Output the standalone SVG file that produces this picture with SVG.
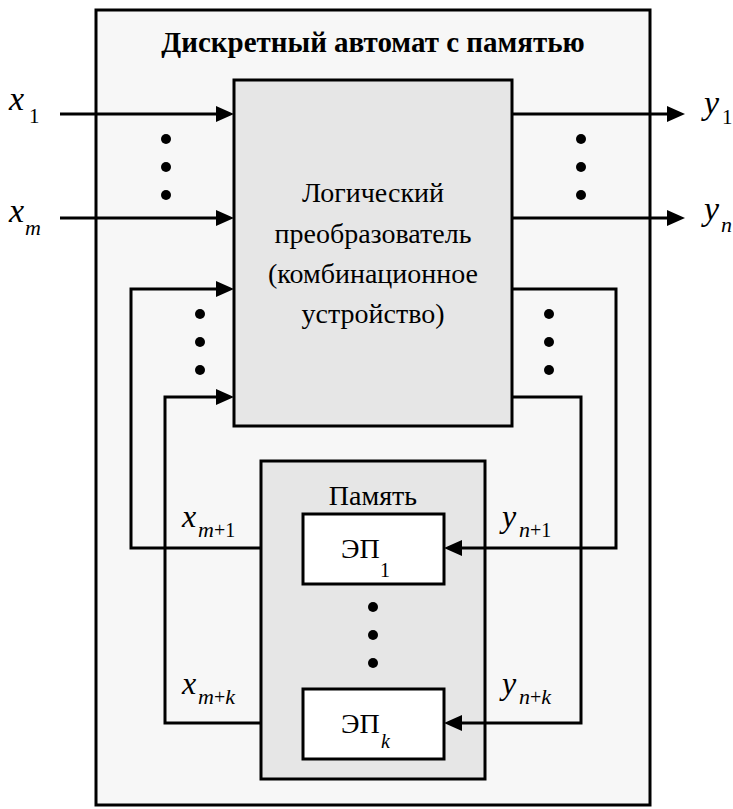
<svg xmlns="http://www.w3.org/2000/svg" width="733" height="809" viewBox="0 0 733 809">
<defs>
<style>
.ln{fill:none;stroke:#000;stroke-width:3}
.box{stroke:#000;stroke-width:3}
.ah{fill:#000}
</style>
</defs>
<rect width="733" height="809" fill="#fff"/>
<g id="automat">
<rect class="box" x="96" y="10" width="554" height="795" fill="#f7f7f7"/>
<text x="373" y="52" font-family="Liberation Serif" font-size="29" font-weight="bold" text-anchor="middle">Дискретный автомат с памятью</text>
</g>
<g id="logic">
<rect class="box" x="234" y="80" width="278" height="346" fill="#e6e6e6"/>
<text x="373" y="202" font-family="Liberation Serif" font-size="28" text-anchor="middle">Логический</text>
<text x="373" y="243" font-family="Liberation Serif" font-size="28" text-anchor="middle">преобразователь</text>
<text x="373" y="283" font-family="Liberation Serif" font-size="28" text-anchor="middle">(комбинационное</text>
<text x="373" y="323" font-family="Liberation Serif" font-size="28" text-anchor="middle">устройство)</text>
</g>
<g id="memory">
<rect class="box" x="261" y="461" width="224" height="318" fill="#e6e6e6"/>
<text x="373" y="505" font-family="Liberation Serif" font-size="28" text-anchor="middle">Память</text>
<circle cx="373" cy="607" r="5"/>
<circle cx="373" cy="635" r="5"/>
<circle cx="373" cy="663" r="5"/>
</g>
<g id="ep1">
<rect class="box" x="303" y="514" width="141" height="70" fill="#fff"/>
<text x="341" y="558" font-family="Liberation Serif" font-size="28">ЭП</text>
<text x="380" y="577" font-family="Liberation Serif" font-size="20">1</text>
</g>
<g id="epk">
<rect class="box" x="303" y="689" width="141" height="70" fill="#fff"/>
<text x="341" y="733" font-family="Liberation Serif" font-size="28">ЭП</text>
<text x="381" y="748" font-family="Liberation Serif" font-size="20" font-style="italic">k</text>
</g>
<g id="connectors">
<line class="ln" x1="60" y1="114" x2="220" y2="114"/>
<line class="ln" x1="60" y1="218" x2="220" y2="218"/>
<line class="ln" x1="512" y1="114" x2="671" y2="114"/>
<line class="ln" x1="512" y1="218" x2="671" y2="218"/>
<polyline class="ln" points="261,548 131,548 131,289 220,289"/>
<polyline class="ln" points="261,723 165,723 165,397 220,397"/>
<polyline class="ln" points="512,289 616,289 616,548 458,548"/>
<polyline class="ln" points="512,397 581,397 581,723 458,723"/>
<polygon class="ah" points="216,106 234,114 216,122"/>
<polygon class="ah" points="216,210 234,218 216,226"/>
<polygon class="ah" points="216,281 234,289 216,297"/>
<polygon class="ah" points="216,389 234,397 216,405"/>
<polygon class="ah" points="667,106 685,114 667,122"/>
<polygon class="ah" points="667,210 685,218 667,226"/>
<polygon class="ah" points="462,540 444,548 462,556"/>
<polygon class="ah" points="462,715 444,723 462,731"/>
</g>
<g id="dots">
<circle cx="166" cy="139" r="5"/>
<circle cx="166" cy="167" r="5"/>
<circle cx="166" cy="195" r="5"/>
<circle cx="581" cy="139" r="5"/>
<circle cx="581" cy="167" r="5"/>
<circle cx="581" cy="195" r="5"/>
<circle cx="200" cy="314" r="5"/>
<circle cx="200" cy="342" r="5"/>
<circle cx="200" cy="370" r="5"/>
<circle cx="549" cy="314" r="5"/>
<circle cx="549" cy="342" r="5"/>
<circle cx="549" cy="370" r="5"/>
</g>
<g id="labels">
<text x="9" y="110" font-family="Liberation Serif" font-size="34" font-style="italic">x</text>
<text x="29" y="123" font-family="Liberation Serif" font-size="21">1</text>
<text x="9" y="222" font-family="Liberation Serif" font-size="34" font-style="italic">x</text>
<text x="25" y="235" font-family="Liberation Serif" font-size="22" font-style="italic">m</text>
<text x="704" y="114" font-family="Liberation Serif" font-size="34" font-style="italic">y</text>
<text x="722" y="124" font-family="Liberation Serif" font-size="21">1</text>
<text x="704" y="220" font-family="Liberation Serif" font-size="34" font-style="italic">y</text>
<text x="721" y="232" font-family="Liberation Serif" font-size="22" font-style="italic">n</text>
<text x="182" y="527" font-family="Liberation Serif" font-size="32" font-style="italic">x</text>
<text x="198" y="537" font-family="Liberation Serif" font-size="22" font-style="italic">m<tspan font-style="normal" font-size="20">+1</tspan></text>
<text x="502" y="527" font-family="Liberation Serif" font-size="32" font-style="italic">y</text>
<text x="519" y="537" font-family="Liberation Serif" font-size="22" font-style="italic">n<tspan font-style="normal" font-size="20">+1</tspan></text>
<text x="182" y="694" font-family="Liberation Serif" font-size="32" font-style="italic">x</text>
<text x="198" y="704" font-family="Liberation Serif" font-size="22" font-style="italic">m<tspan font-style="normal" font-size="20">+</tspan>k</text>
<text x="502" y="694" font-family="Liberation Serif" font-size="32" font-style="italic">y</text>
<text x="519" y="704" font-family="Liberation Serif" font-size="22" font-style="italic">n<tspan font-style="normal" font-size="20">+</tspan>k</text>
</g>
</svg>
